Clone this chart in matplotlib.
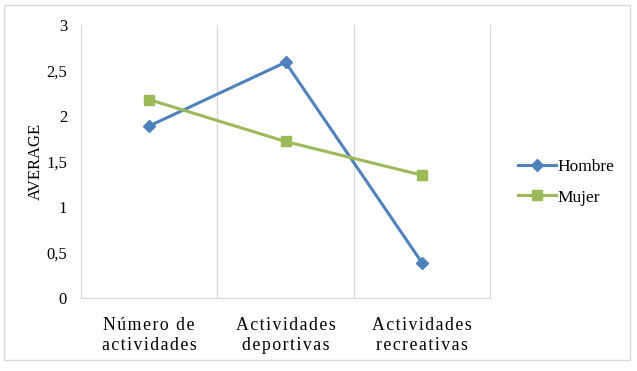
import matplotlib.pyplot as plt
from matplotlib.patches import Rectangle

categories = ['Número de\nactividades', 'Actividades\ndeportivas', 'Actividades\nrecreativas']
hombre = [1.89, 2.59, 0.39]
mujer = [2.18, 1.72, 1.35]
yticks = [0, 0.5, 1, 1.5, 2, 2.5, 3]
ytick_labels = ['0', '0,5', '1', '1,5', '2', '2,5', '3']

plt.rcParams['font.family'] = ['Liberation Serif', 'DejaVu Serif']

def spaced(s):
    # letter-spaced look of the original category labels
    return '\n'.join('\u200a'.join(line) for line in s.split('\n'))

fig = plt.figure(figsize=(6.37, 3.71), dpi=100)
fig.patches.append(Rectangle((4 / 637, 11 / 371), 626 / 637, 355 / 371, transform=fig.transFigure,
                             fill=False, edgecolor='#D9D9D9', linewidth=1))
ax = fig.add_axes([81 / 637, 73 / 371, 409 / 637, 273 / 371])

x = range(len(categories))
ax.plot(x, hombre, color='#4F81BD', linewidth=2.2, marker='D', markersize=6, label='Hombre')
ax.plot(x, mujer, color='#9BBB59', linewidth=2.2, marker='s', markersize=6.5, label='Mujer')

ax.set_xlim(-0.5, 2.5)
ax.set_ylim(0, 3)
ax.set_xticks(list(x))
ax.set_xticklabels([spaced(c) for c in categories], fontsize=12.8, linespacing=1.2)
ax.set_xticks([0.5, 1.5], minor=True)
ax.grid(axis='x', which='minor', color='#D9D9D9', linewidth=1)
ax.set_yticks(yticks)
ax.set_yticklabels(ytick_labels, fontsize=12)
ax.tick_params(which='both', length=0)
ax.tick_params(axis='y', pad=10)
ax.tick_params(axis='x', pad=14)
for side in ['left', 'right', 'bottom']:
    ax.spines[side].set_color('#D9D9D9')
ax.spines['top'].set_visible(False)
ax.set_ylabel('AVERAGE', fontsize=12, labelpad=2)

ax.legend(loc='center left', bbox_to_anchor=(1.03, 0.425), frameon=False, fontsize=12.5,
          handlelength=2.2, handletextpad=0.1, labelspacing=0.85)

plt.savefig('out.png', dpi=100)
